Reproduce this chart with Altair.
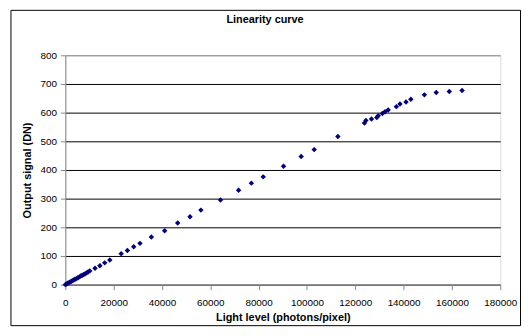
import altair as alt
import pandas as pd

# Data
light_level = [0, 500, 1000, 1500, 2000, 2500, 3000, 3500, 4000, 4600, 5200, 5800,
               6400, 7000, 7600, 8200, 8800, 9400, 10100, 12300, 14300, 16300, 18400,
               23100, 25700, 28300, 30900, 35600, 41100, 46500, 51600, 56100, 64200,
               71700, 77000, 81900, 90300, 97600, 103000, 112800, 123800, 124400,
               126700, 128900, 129500, 131200, 132300, 133600, 137000, 138500, 141000,
               143000, 148600, 153500, 158900, 164200]
output_signal = [0, 2, 5, 7, 9, 12, 14, 16, 19, 21, 24, 27, 30, 33, 35, 38, 41, 44,
                 48, 57, 66, 76, 86, 108, 119, 132, 144, 166, 188, 215, 237, 260, 295,
                 329, 354, 376, 413, 447, 471, 517, 564, 573, 578, 583, 589, 597, 603,
                 609, 621, 630, 637, 647, 662, 670, 674, 677]
x_ticks = [0, 20000, 40000, 60000, 80000, 100000, 120000, 140000, 160000, 180000]
y_ticks = [0, 100, 200, 300, 400, 500, 600, 700, 800]
chart_title = "Linearity curve"

df = pd.DataFrame({"light": light_level, "signal": output_signal})

FONT = "Liberation Sans"

points = alt.Chart(df).mark_point(
    shape="diamond", filled=True, size=30, color="#000080", opacity=1
).encode(
    x=alt.X("light:Q",
            scale=alt.Scale(domain=[0, 180000], nice=False, zero=True),
            axis=alt.Axis(values=x_ticks, format="d", grid=False,
                          title="Light level (photons/pixel)",
                          titleX=220, titleY=33, titleBaseline="middle",
                          titleAlign="center",
                          tickSize=5, labelPadding=8, labelFlush=False,
                          labelOverlap=False)),
    y=alt.Y("signal:Q",
            scale=alt.Scale(domain=[0, 800], nice=False),
            axis=alt.Axis(values=y_ticks, format="d", grid=True,
                          gridColor={"condition": {"test": "datum.value === 800",
                                                   "value": "#808080"},
                                     "value": "#000000"},
                          title="Output signal (DN)",
                          titleX=-38, titleY=116, titleAngle=270,
                          titleAlign="center", titleBaseline="middle",
                          tickSize=5, labelPadding=4))
)

title_layer = alt.Chart(pd.DataFrame({"t": [chart_title]})).mark_text(
    font=FONT, fontSize=11, fontWeight="bold", color="black",
    align="center", baseline="middle"
).encode(
    text="t:N", x=alt.value(202), y=alt.value(-35.5)
)

border = alt.Chart(pd.DataFrame({"a": [0]})).mark_rect(
    filled=False, stroke="black", strokeWidth=1
).encode(
    x=alt.value(-55), x2=alt.value(460.5),
    y=alt.value(-45.5), y2=alt.value(273.5)
)

chart = alt.layer(points, title_layer, border).properties(
    width=440,
    height=232,
    padding={"left": 58, "top": 46, "right": 22, "bottom": 42},
    autosize=alt.AutoSizeParams(type="none"),
).configure_view(
    stroke="#808080", strokeWidth=1
).configure_axis(
    domainColor="black", domainWidth=1, tickColor="black", tickWidth=1,
    labelFont=FONT, labelFontSize=10.5, labelColor="black",
    titleFont=FONT, titleFontSize=8.6, titleFontWeight="bold", titleColor="black",
    gridWidth=1
).configure(
    background="white"
)

chart.save("out.html", embed_options={"renderer": "svg", "actions": False})
